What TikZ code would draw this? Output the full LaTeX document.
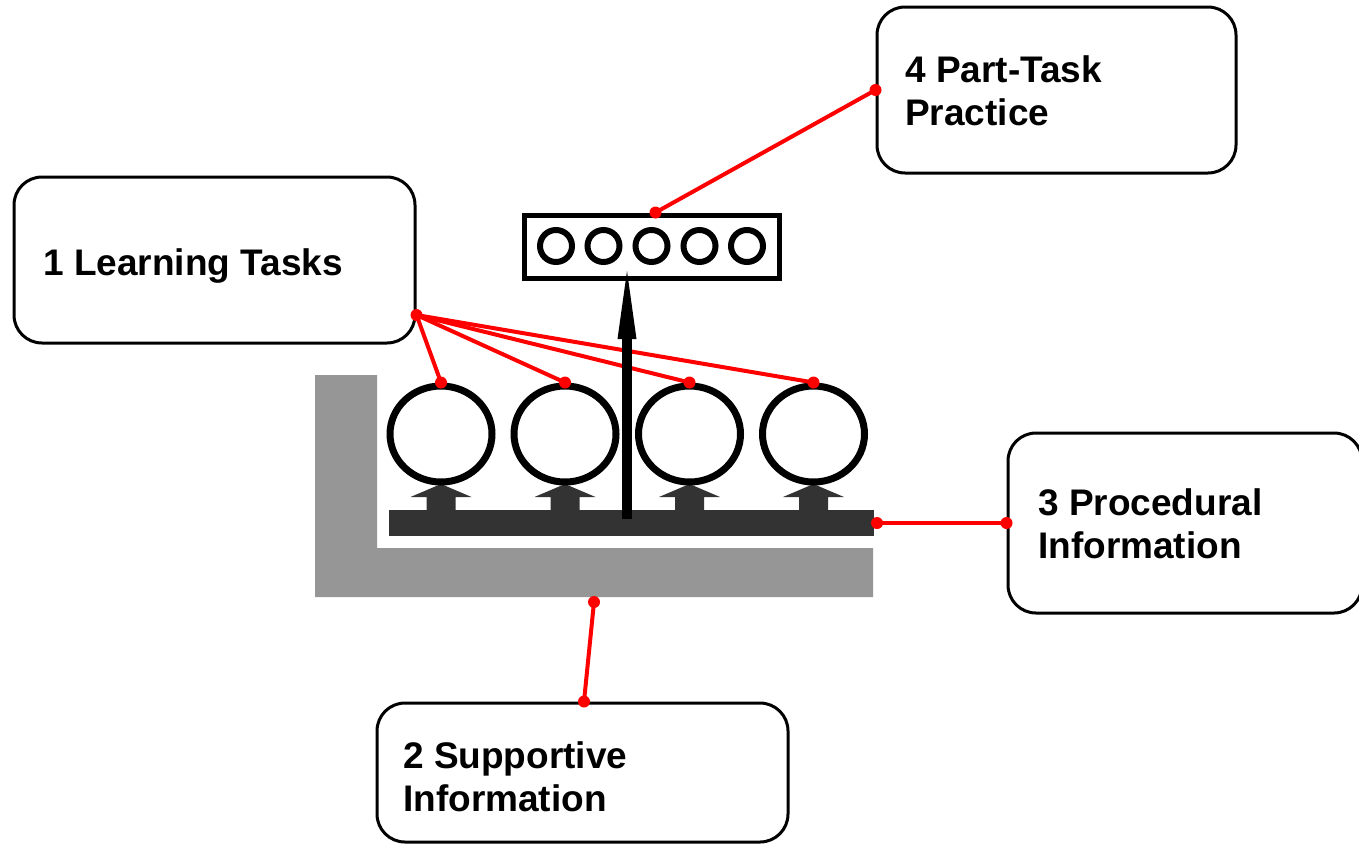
\documentclass[tikz,border=0pt]{standalone}
\usepackage{fontspec}
\setmainfont{Liberation Sans}
\usetikzlibrary{shapes.geometric}
\definecolor{lgray}{HTML}{969696}
\definecolor{dgray}{HTML}{333333}
\definecolor{lred}{HTML}{FF0000}
\begin{document}
\begin{tikzpicture}[x=1pt,y=-1pt,
  infobox/.style={draw=black, line width=3pt, rounded corners=28pt, inner sep=0pt, rectangle},
  lbl/.style={anchor=base west, inner sep=0pt, font=\fontsize{37}{43}\selectfont\bfseries},
  link/.style={draw=lred, line width=4pt},
  rdot/.style={fill=lred},
  task/.style={ellipse, draw=black, line width=7pt, minimum width=102pt, minimum height=96pt, inner sep=0pt},
  ptc/.style={circle, draw=black, line width=6pt, minimum size=32pt, inner sep=0pt},
  uparrow/.style={fill=dgray}
  ]
\useasboundingbox (0,0) rectangle (1359,844);
\fill[white] (0,0) rectangle (1359,844);

% supportive information L shape
\fill[lgray] (315,375) -- (377,375) -- (377,548) -- (873,548) -- (873,597) -- (315,597) -- cycle;
\coordinate (lbot) at (594,602);

% procedural information bar
\node[fill=dgray, minimum width=485pt, minimum height=26pt, inner sep=0pt, outer sep=0pt] (bar) at (631.5,523) {};

% small up arrows
\foreach \cx in {441,565,689.5,813.5}{
  \fill[uparrow] (\cx,484) -- (\cx+30.5,497) -- (\cx+14.5,497) -- (\cx+14.5,511) -- (\cx-14.5,511) -- (\cx-14.5,497) -- (\cx-30.5,497) -- cycle;
}

% learning tasks
\node[task] (c1) at (441,434) {};
\node[task] (c2) at (565,434) {};
\node[task] (c3) at (689.5,434) {};
\node[task] (c4) at (813.5,434) {};

% part-task practice box
\node[draw=black, line width=5pt, minimum width=255pt, minimum height=63pt, inner sep=0pt] (pt) at (651.5,246.5) {};
\foreach \i/\cx in {1/556,2/603.5,3/651.5,4/699.5,5/747}{
  \node[ptc] (s\i) at (\cx,246) {};
}

% info boxes
\node[infobox, minimum width=401pt, minimum height=166pt] (b1) at (214.5,260) {};
\node[lbl] (t1) at (43,275) {1 Learning Tasks};

\node[infobox, minimum width=359pt, minimum height=166pt] (b4) at (1056.5,90) {};
\node[lbl] (t4) at (905,82) {\begin{tabular}[t]{@{}l@{}}4 Part-Task\\Practice\end{tabular}};

\node[infobox, minimum width=354pt, minimum height=180pt] (b3) at (1185,523) {};
\node[lbl] (t3) at (1038,515) {\begin{tabular}[t]{@{}l@{}}3 Procedural\\Information\end{tabular}};

\node[infobox, minimum width=411pt, minimum height=139pt] (b2) at (582.5,772.5) {};
\node[lbl] (t2) at (403,768) {\begin{tabular}[t]{@{}l@{}}2 Supportive\\Information\end{tabular}};

% red connectors
\coordinate (b1p) at ([yshift=-55pt]b1.east);
\coordinate (ptp) at ([xshift=4pt]pt.north);
\coordinate (b2p) at ([xshift=1.5pt]b2.north);
\foreach \c in {c1,c2,c3,c4}{
  \draw[link] (b1p) -- (\c.north);
  \fill[rdot] (\c.north) circle (6pt);
}
\fill[rdot] (b1p) circle (6pt);
\draw[link] (b4.west) -- (ptp);
\fill[rdot] (b4.west) circle (6pt) (ptp) circle (6pt);
\draw[link] (bar.east) -- (b3.west);
\fill[rdot] ([xshift=3pt]bar.east) circle (6pt) (b3.west) circle (6pt);
\draw[link] (lbot) -- (b2p);
\fill[rdot] (lbot) circle (6pt) (b2p) circle (6pt);

% black arrow up to part-task practice
\coordinate (abase) at (627,519);
\coordinate (atip) at (627,271);
\draw[line width=9.5pt] (abase) -- (627,335);
\fill[black] (atip) -- (636.5,339) -- (617.5,339) -- cycle;
\end{tikzpicture}
\end{document}
